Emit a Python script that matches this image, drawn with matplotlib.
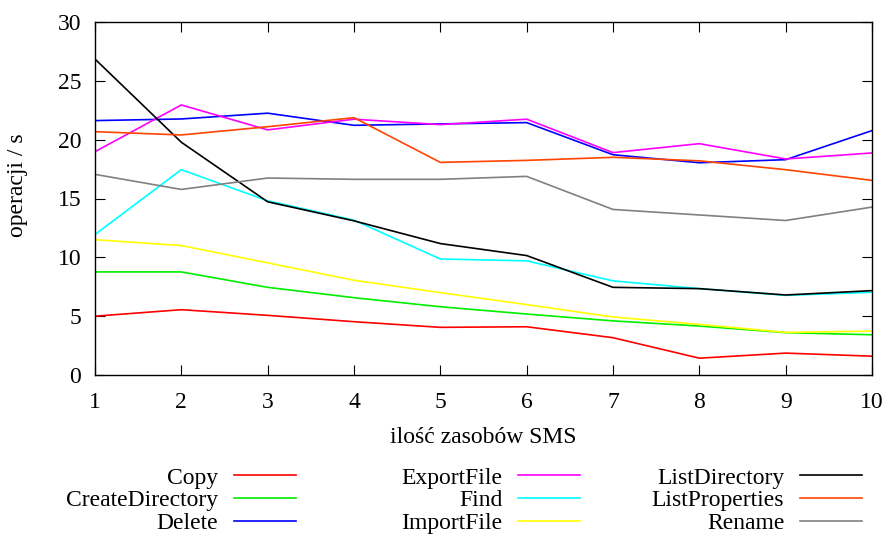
import matplotlib
matplotlib.use("Agg")
import matplotlib.pyplot as plt

plt.rcParams["font.family"] = ["Liberation Serif", "DejaVu Serif"]
plt.rcParams["font.size"] = 17

zasoby = [1, 2, 3, 4, 5, 6, 7, 8, 9, 10]

copy_ops = [5.0, 5.55, 5.07, 4.53, 4.05, 4.1, 3.17, 1.43, 1.86, 1.6]
create_dir = [8.76, 8.76, 7.45, 6.57, 5.8, 5.18, 4.6, 4.16, 3.6, 3.42]
delete_ops = [21.62, 21.76, 22.25, 21.22, 21.34, 21.45, 18.72, 18.04, 18.3, 20.77]
export_file = [18.98, 22.95, 20.83, 21.74, 21.28, 21.74, 18.9, 19.66, 18.36, 18.87]
find_ops = [11.94, 17.45, 14.8, 13.16, 9.86, 9.7, 8.0, 7.34, 6.77, 7.03]
import_file = [11.5, 11.0, 9.53, 8.05, 7.0, 5.98, 4.93, 4.3, 3.62, 3.73]
list_dir = [26.85, 19.78, 14.72, 13.1, 11.17, 10.15, 7.45, 7.34, 6.8, 7.17]
list_props = [20.68, 20.4, 21.1, 21.87, 18.07, 18.24, 18.5, 18.2, 17.45, 16.54]
rename_ops = [17.05, 15.77, 16.74, 16.63, 16.63, 16.88, 14.07, 13.6, 13.13, 14.27]

serie = [
    ("Copy", copy_ops, "#ff0000"),
    ("CreateDirectory", create_dir, "#00ee00"),
    ("Delete", delete_ops, "#0000ff"),
    ("ExportFile", export_file, "#ff00ff"),
    ("Find", find_ops, "#00ffff"),
    ("ImportFile", import_file, "#ffff00"),
    ("ListDirectory", list_dir, "#000000"),
    ("ListProperties", list_props, "#ff4500"),
    ("Rename", rename_ops, "#808080"),
]

fig = plt.figure(figsize=(8.9, 5.37), dpi=100)
ax = fig.add_axes([95 / 890, 1 - 375 / 537, 777 / 890, 353 / 537])

lines = []
for name, vals, col in serie:
    (ln,) = ax.plot(zasoby, vals, color=col, linewidth=1.2, label=name)
    lines.append(ln)

ax.set_xlim(1, 10)
ax.set_ylim(0, 30)
ax.set_xticks(zasoby)
ax.set_yticks(range(0, 31, 5))
ax.tick_params(direction="in", length=7, width=0.8, top=True, right=True)
ax.tick_params(axis="x", pad=12)
ax.tick_params(axis="y", pad=10)
for s in ax.spines.values():
    s.set_linewidth(1.0)

ax.set_xlabel("ilość zasobów SMS", labelpad=10)
ax.set_ylabel("operacji / s")
ax.yaxis.set_label_coords(-0.086, 0.538)

# three legend columns, text to the left of the sample line
col_right = [296, 580, 862]
for i, xr in enumerate(col_right):
    fig.legend(
        handles=lines[3 * i:3 * i + 3],
        loc="upper right",
        bbox_to_anchor=(xr / 890, 1 - 467 / 537),
        markerfirst=False,
        frameon=False,
        borderpad=0,
        borderaxespad=0,
        handlelength=2.63,
        handletextpad=0.66,
        labelspacing=0.06,
    )

fig.savefig("out.png", dpi=100)
